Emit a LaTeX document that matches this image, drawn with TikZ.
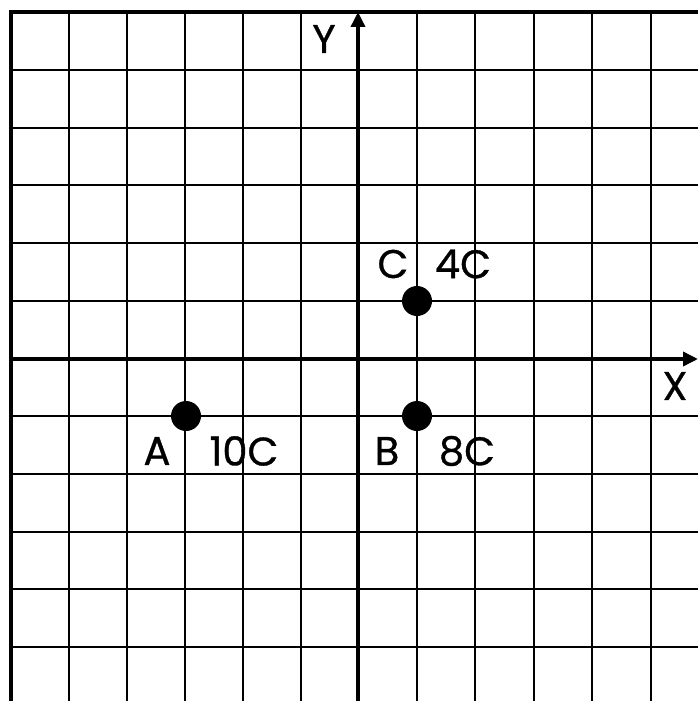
\documentclass[tikz,border=0pt]{standalone}
\usepackage{fontspec}
\setmainfont{Poppins}
\newfontfamily\lblfont{Poppins}[FakeBold=0.8]
\usetikzlibrary{arrows.meta}
\begin{document}
\begin{tikzpicture}[x=1pt,y=-1pt,
  gridline/.style={line width=1.3pt,black},
  borderline/.style={line width=4pt,black},
  axisline/.style={line width=3.5pt,black,-{Triangle[width=14pt,length=15pt]}},
  charge/.style={circle,fill=black,inner sep=0pt,minimum size=30pt},
  lbl/.style={inner sep=0pt,font=\lblfont\fontsize{40}{40}\selectfont}]
\useasboundingbox (0,0) rectangle (698,701);
% vertical grid lines
\foreach \gx in {69,127,185,243,301,417,475,534,592,651}
  \draw[gridline] (\gx,12) -- (\gx,701);
% horizontal grid lines
\foreach \gy in {70,128,185,243,301,416,474,532,589,647}
  \draw[gridline] (10.5,\gy) -- (698,\gy);
% border (top and left)
\draw[borderline] (10.5,701) -- (10.5,12) -- (698,12);
% axes
\coordinate (ybot) at (358,701);
\coordinate (ytop) at (358,12);
\coordinate (xleft) at (10.5,359);
\coordinate (xright) at (698,359);
\draw[axisline] (ybot) -- (ytop);
\draw[axisline] (xleft) -- (xright);
\node[lbl] (ylab) at (324,39) {Y};
\node[lbl] (xlab) at (675,386) {X};
% charges
\node[charge] (C) at (417,301) {};
\node[charge] (A) at (186,416) {};
\node[charge] (B) at (417,416) {};
\node[lbl] (Clab) at (393,264) {C};
\node[lbl] (Cq) at (463,264) {4C};
\node[lbl] (Alab) at (157,451) {A};
\node[lbl] (Aq) at (244,451) {10C};
\node[lbl] (Blab) at (387,451) {B};
\node[lbl] (Bq) at (467,451) {8C};
\end{tikzpicture}
\end{document}
